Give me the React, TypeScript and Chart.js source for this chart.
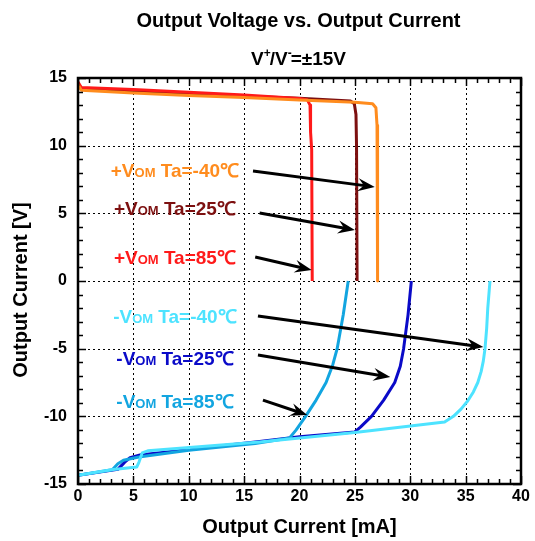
import React, { useEffect, useRef } from 'react';
import { Chart, registerables } from 'chart.js';
Chart.register(...registerables);

const FONT = '"Liberation Sans", Arial, sans-serif';

const xTicks = [0, 5, 10, 15, 20, 25, 30, 35, 40];
const yTicks = [-15, -10, -5, 0, 5, 10, 15];

// +Vom Ta=-40℃
const pM40X = [0, 0.3, 5, 10, 15, 20, 25, 26.6, 26.9, 27.0, 27.05];
const pM40Y = [14.5, 14.1, 13.9, 13.7, 13.55, 13.38, 13.2, 13.1, 12.8, 11.5, 0];
// +Vom Ta=25℃
const p25X = [0, 0.3, 5, 10, 15, 20, 24.6, 24.95, 25.1, 25.15, 25.2];
const p25Y = [14.6, 14.2, 14.0, 13.8, 13.65, 13.5, 13.3, 13.1, 12.3, 10, 0];
// +Vom Ta=85℃
const p85X = [0, 0.3, 5, 10, 15, 20, 20.7, 20.95, 21.0, 21.1, 21.15];
const p85Y = [14.7, 14.3, 14.15, 13.95, 13.75, 13.48, 13.4, 13.0, 11, 9.7, 0];
// -Vom Ta=-40℃
const nM40X = [0, 3, 5.3, 5.5, 5.8, 6.3, 16.4, 25, 33.1, 33.9, 34.6, 35.2, 35.7, 36.1, 36.4, 36.6, 36.75, 36.9, 37.0, 37.2];
const nM40Y = [-14.35, -13.95, -13.75, -13.4, -12.7, -12.55, -11.9, -11.2, -10.42, -10.0, -9.45, -8.85, -8.2, -7.5, -6.7, -5.9, -5.0, -3.5, -2.0, 0];
// -Vom Ta=25℃
const n25X = [0, 3.6, 4.2, 4.7, 5.6, 10, 16.4, 20, 25, 25.5, 26.5, 27.6, 28.6, 29.1, 29.4, 29.8, 30.1];
const n25Y = [-14.35, -13.92, -13.4, -13.05, -12.86, -12.45, -11.85, -11.5, -11.15, -10.8, -10.0, -8.8, -7.5, -6.3, -5.0, -2.5, 0];
// -Vom Ta=85℃
const n85X = [0, 3.1, 3.6, 4.1, 5.5, 10, 16, 19.1, 19.7, 20.55, 21.5, 22.4, 23.0, 23.4, 23.95, 24.4];
const n85Y = [-14.35, -13.95, -13.5, -13.25, -13.0, -12.5, -12.0, -11.6, -11.0, -10.0, -8.8, -7.5, -6.2, -5.0, -2.5, 0];

const seriesX = [pM40X, p25X, p85X, nM40X, n25X, n85X];
const seriesY = [pM40Y, p25Y, p85Y, nM40Y, n25Y, n85Y];
const seriesSign = ['+', '+', '+', '-', '-', '-'];
const seriesTemp = ['-40', '25', '85', '-40', '25', '85'];
const seriesColors = ['#FF8C1E', '#7D1010', '#FF1A1A', '#4DE3FF', '#0A0AC8', '#12A5E0'];
// draw order: first drawn on top
const drawOrder = [3, 0, 2, 1, 5, 4];

const labelX = [8.75, 8.75, 8.75, 8.75, 8.75, 8.75];
const labelY = [8.2, 5.4, 1.77, -2.56, -5.71, -8.87];
const arrowFromX = [15.8, 16.4, 16.0, 16.25, 16.25, 16.7];
const arrowFromY = [8.13, 5.03, 1.77, -2.59, -5.47, -8.8];
const arrowToX = [26.8, 25.0, 21.1, 36.6, 28.2, 20.7];
const arrowToY = [6.95, 3.77, 0.81, -4.88, -7.1, -9.9];

const titleText = 'Output Voltage vs. Output Current';
const xTitle = 'Output Current [mA]';
const yTitle = 'Output Current [V]';

function drawArrow(ctx: CanvasRenderingContext2D, x1: number, y1: number, x2: number, y2: number) {
  const dx = x2 - x1, dy = y2 - y1;
  const len = Math.hypot(dx, dy);
  const ux = dx / len, uy = dy / len;
  const nx = -uy, ny = ux;
  const L = 17, W = 6.5;
  ctx.save();
  ctx.strokeStyle = '#000';
  ctx.fillStyle = '#000';
  ctx.lineWidth = 3;
  ctx.setLineDash([]);
  ctx.beginPath();
  ctx.moveTo(x1, y1);
  ctx.lineTo(x2 - ux * L * 0.6, y2 - uy * L * 0.6);
  ctx.stroke();
  ctx.beginPath();
  ctx.moveTo(x2, y2);
  ctx.lineTo(x2 - ux * L + nx * W, y2 - uy * L + ny * W);
  ctx.lineTo(x2 - ux * L * 0.65, y2 - uy * L * 0.65);
  ctx.lineTo(x2 - ux * L - nx * W, y2 - uy * L - ny * W);
  ctx.closePath();
  ctx.fill();
  ctx.restore();
}

const overlay = {
  id: 'overlay',
  beforeDatasetsDraw(chart: any) {
    const { ctx, chartArea: a, scales } = chart;
    const x = scales.x, y = scales.y;
    ctx.save();
    ctx.strokeStyle = '#000';
    ctx.lineWidth = 1;
    ctx.setLineDash([2, 3]);
    for (const v of xTicks) {
      if (v === xTicks[0] || v === xTicks[xTicks.length - 1]) continue;
      const px = Math.round(x.getPixelForValue(v)) + 0.5;
      ctx.beginPath(); ctx.moveTo(px, a.top); ctx.lineTo(px, a.bottom); ctx.stroke();
    }
    for (const v of yTicks) {
      if (v === yTicks[0] || v === yTicks[yTicks.length - 1]) continue;
      const py = Math.round(y.getPixelForValue(v)) + 0.5;
      ctx.beginPath(); ctx.moveTo(a.left, py); ctx.lineTo(a.right, py); ctx.stroke();
    }
    ctx.restore();
  },
  afterDatasetsDraw(chart: any) {
    const { ctx, chartArea: a, scales } = chart;
    const x = scales.x, y = scales.y;
    ctx.save();
    ctx.setLineDash([]);
    ctx.strokeStyle = '#000';
    ctx.lineWidth = 1.5;
    const xmin = xTicks[0], xmax = xTicks[xTicks.length - 1];
    const ymin = yTicks[0], ymax = yTicks[yTicks.length - 1];
    for (let v = xmin; v <= xmax; v += 1) {
      const px = Math.round(x.getPixelForValue(v)) + 0.5;
      const L = v % 5 === 0 ? 8 : 5;
      ctx.beginPath();
      ctx.moveTo(px, a.bottom); ctx.lineTo(px, a.bottom - L);
      ctx.moveTo(px, a.top); ctx.lineTo(px, a.top + L);
      ctx.stroke();
    }
    for (let v = ymin; v <= ymax; v += 1) {
      const py = Math.round(y.getPixelForValue(v)) + 0.5;
      const L = v % 5 === 0 ? 8 : 5;
      ctx.beginPath();
      ctx.moveTo(a.left, py); ctx.lineTo(a.left + L, py);
      ctx.moveTo(a.right, py); ctx.lineTo(a.right - L, py);
      ctx.stroke();
    }
    ctx.lineWidth = 2.5;
    ctx.strokeRect(a.left, a.top, a.right - a.left, a.bottom - a.top);
    ctx.restore();
  },
  afterDraw(chart: any) {
    const { ctx, chartArea: a, scales } = chart;
    const x = scales.x, y = scales.y;
    ctx.save();
    ctx.fillStyle = '#000';
    // title
    ctx.font = `bold 20px ${FONT}`;
    ctx.textAlign = 'center';
    ctx.textBaseline = 'middle';
    const cx = (a.left + a.right) / 2;
    ctx.fillText(titleText, cx - 1, 21);
    // subtitle V+/V-=±15V
    const big = `bold 19px ${FONT}`, small = `bold 12px ${FONT}`;
    const parts: [string, boolean][] = [['V', false], ['+', true], ['/V', false], ['-', true], ['=±15V', false]];
    let total = 0;
    for (const [t, s] of parts) { ctx.font = s ? small : big; total += ctx.measureText(t).width; }
    let px = cx - total / 2;
    ctx.textAlign = 'left';
    ctx.textBaseline = 'alphabetic';
    for (const [t, s] of parts) {
      ctx.font = s ? small : big;
      ctx.fillText(t, px, s ? 57 : 64.5);
      px += ctx.measureText(t).width - (s ? 1 : 0);
    }
    // axis titles
    ctx.font = `bold 20px ${FONT}`;
    ctx.textAlign = 'center';
    ctx.textBaseline = 'middle';
    ctx.fillText(xTitle, cx, 527);
    ctx.save();
    ctx.translate(21, 290);
    ctx.rotate(-Math.PI / 2);
    ctx.fillText(yTitle, 0, 0);
    ctx.restore();
    // series labels
    for (let i = 0; i < seriesColors.length; i++) {
      const segs: [string, string][] = [
        [seriesSign[i] + 'V', `bold 19px ${FONT}`],
        ['OM', `bold 13px ${FONT}`],
        [' Ta=' + seriesTemp[i] + '℃', `bold 19px ${FONT}`],
      ];
      let w = 0;
      for (const [t, f] of segs) { ctx.font = f; w += ctx.measureText(t).width; }
      let lx = x.getPixelForValue(labelX[i]) - w / 2;
      const base = y.getPixelForValue(labelY[i]) + 7;
      ctx.fillStyle = seriesColors[i];
      ctx.textAlign = 'left';
      ctx.textBaseline = 'alphabetic';
      for (const [t, f] of segs) {
        ctx.font = f;
        ctx.fillText(t, lx, base);
        lx += ctx.measureText(t).width;
      }
      drawArrow(ctx,
        x.getPixelForValue(arrowFromX[i]), y.getPixelForValue(arrowFromY[i]),
        x.getPixelForValue(arrowToX[i]), y.getPixelForValue(arrowToY[i]));
    }
    ctx.restore();
  },
};

export default function App() {
  const ref = useRef<HTMLCanvasElement>(null);
  useEffect(() => {
    if (!ref.current) return;
    const datasets = drawOrder.map((i) => ({
      label: seriesSign[i] + 'Vom Ta=' + seriesTemp[i] + '℃',
      data: seriesX[i].map((xv, k) => ({ x: xv, y: seriesY[i][k] })),
      borderColor: seriesColors[i],
      backgroundColor: seriesColors[i],
      borderWidth: 3,
      borderJoinStyle: 'round' as const,
      pointRadius: 0,
      tension: 0,
      fill: false,
    }));
    const chart = new Chart(ref.current, {
      type: 'line',
      data: { datasets },
      options: {
        animation: false,
        responsive: true,
        maintainAspectRatio: false,
        layout: { padding: { top: 78, left: 0, right: 14, bottom: 0 } },
        plugins: { legend: { display: false }, title: { display: false }, tooltip: { enabled: false } },
        scales: {
          x: {
            type: 'linear',
            min: xTicks[0],
            max: xTicks[xTicks.length - 1],
            grid: { display: false, drawTicks: false },
            border: { display: false },
            afterFit: (s: any) => { s.height = 57; },
            afterBuildTicks: (s: any) => { s.ticks = xTicks.map((v) => ({ value: v })); },
            ticks: { color: '#000', font: { family: FONT, size: 16, weight: 'bold' }, padding: 3, maxRotation: 0 },
          },
          y: {
            type: 'linear',
            min: yTicks[0],
            max: yTicks[yTicks.length - 1],
            grid: { display: false, drawTicks: false },
            border: { display: false },
            afterFit: (s: any) => { s.width = 78; },
            afterBuildTicks: (s: any) => { s.ticks = yTicks.map((v) => ({ value: v })); },
            ticks: { color: '#000', font: { family: FONT, size: 16, weight: 'bold' }, padding: 11 },
          },
        },
      },
      plugins: [overlay],
    });
    return () => chart.destroy();
  }, []);
  return (
    <div style={{ position: 'fixed', left: 0, top: 0, width: 535, height: 541, background: '#fff' }}>
      <canvas ref={ref} />
    </div>
  );
}
